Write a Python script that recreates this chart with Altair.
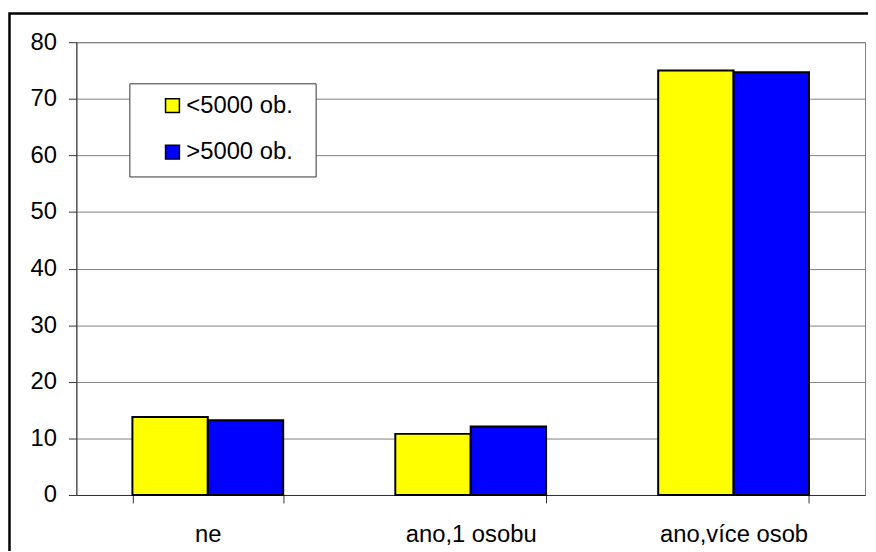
import altair as alt
import pandas as pd

categories = ["ne", "ano,1 osobu", "ano,více osob"]
series = ["<5000 ob.", ">5000 ob."]
small_town = [13.8, 10.8, 75.0]
large_town = [13.2, 12.1, 74.7]
colors = ["#FFFF00", "#0000FF"]
y_ticks = [0, 10, 20, 30, 40, 50, 60, 70, 80]

rows = []
for c, a, b in zip(categories, small_town, large_town):
    rows.append({"kategorie": c, "obec": series[0], "podil": a})
    rows.append({"kategorie": c, "obec": series[1], "podil": b})
df = pd.DataFrame(rows)

FONT = "Liberation Sans"

bars = alt.Chart(df).mark_bar(stroke="black", strokeWidth=2).encode(
    x=alt.X(
        "kategorie:N",
        sort=categories,
        scale=alt.Scale(domain=categories, paddingInner=0.4264, paddingOuter=0.2132),
        axis=alt.Axis(
            title=None, labelAngle=0, tickBand="extent", tickSize=8,
            labelFontSize=24, labelPadding=20, grid=False,
        ),
    ),
    xOffset=alt.XOffset(
        "obec:N", sort=series,
        scale=alt.Scale(domain=series, paddingInner=0, paddingOuter=0),
    ),
    y=alt.Y(
        "podil:Q",
        scale=alt.Scale(domain=[0, 80], nice=False),
        axis=alt.Axis(
            title=None, values=y_ticks, tickSize=8, labelFontSize=24,
            labelPadding=12, grid=True, gridColor="#808080", gridWidth=1,
        ),
    ),
    fill=alt.Fill(
        "obec:N",
        scale=alt.Scale(domain=series, range=colors),
        legend=alt.Legend(
            title=None, orient="none", legendX=54, legendY=40,
            symbolType="square", symbolSize=196, symbolStrokeColor="black",
            symbolStrokeWidth=1.5, labelFontSize=24, labelFont=FONT,
            labelColor="black", padding=12, symbolOffset=19, labelOffset=2,
            rowPadding=23,
        ),
    ),
)

# legend frame (white box hiding the gridlines behind the legend)
legend_box = alt.Chart(pd.DataFrame({"a": [0]})).mark_rect(
    fill="white", stroke="#333333", strokeWidth=1
).encode(
    x=alt.value(54), x2=alt.value(242), y=alt.value(42), y2=alt.value(136)
)

# outer chart frame
border = alt.Chart(pd.DataFrame({"a": [0]})).mark_rect(
    filled=False, stroke="black", strokeWidth=2.5
).encode(
    x=alt.value(-67.5), x2=alt.value(900), y=alt.value(-29), y2=alt.value(700)
)

chart = alt.layer(legend_box, bars, border).properties(
    width=796, height=457, autosize="none",
    padding={"left": 69, "top": 32, "right": 3, "bottom": 54},
).configure_view(
    stroke="#808080", strokeWidth=1
).configure_axis(
    labelFont=FONT, labelColor="black", domainColor="#333333",
    tickColor="#333333", domainWidth=1, tickWidth=1,
)

chart.save("out.html", embed_options={"renderer": "svg", "actions": False})
